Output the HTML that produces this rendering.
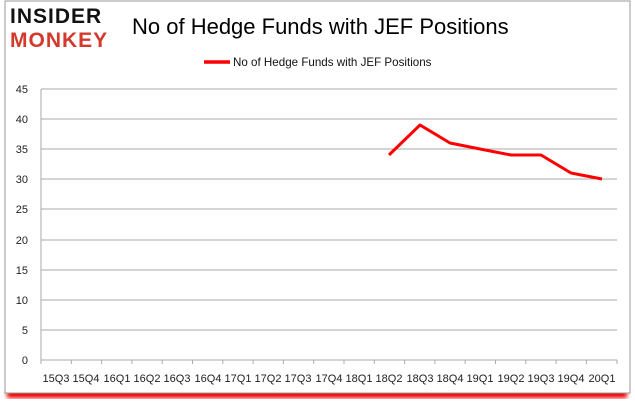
<!DOCTYPE html>
<html><head><style>
body{margin:0;background:#fff;width:635px;height:405px;overflow:hidden}
</style></head><body>
<svg width="635" height="405" xmlns="http://www.w3.org/2000/svg" font-family="Liberation Sans, sans-serif">
<defs><filter id="b"><feGaussianBlur stdDeviation="2"/></filter></defs>
<rect x="7" y="390" width="620" height="8" fill="#e00" filter="url(#b)"/>
<rect x="5" y="1" width="625" height="392" fill="#fff" stroke="#999"/>
<text x="10" y="23" font-size="21" font-weight="bold" fill="#111" letter-spacing="1">INSIDER</text>
<text x="10" y="47" font-size="21" font-weight="bold" fill="#d33a2c" letter-spacing="1">MONKEY</text>
<text x="132" y="34" font-size="22" fill="#000">No of Hedge Funds with JEF Positions</text>
<line x1="204" y1="62" x2="230" y2="62" stroke="#f00" stroke-width="3.5"/>
<text x="233" y="66" font-size="11.6" fill="#111">No of Hedge Funds with JEF Positions</text>
<g stroke="#aaa" stroke-width="1">
<line x1="41" y1="89" x2="617" y2="89"/><line x1="41" y1="119" x2="617" y2="119"/>
<line x1="41" y1="149" x2="617" y2="149"/><line x1="41" y1="179" x2="617" y2="179"/>
<line x1="41" y1="209" x2="617" y2="209"/><line x1="41" y1="240" x2="617" y2="240"/>
<line x1="41" y1="270" x2="617" y2="270"/><line x1="41" y1="300" x2="617" y2="300"/>
<line x1="41" y1="330" x2="617" y2="330"/><line x1="41" y1="360" x2="617" y2="360"/>
<line x1="41" y1="89" x2="41" y2="364"/>
</g>
<g font-size="11" fill="#222" text-anchor="end">
<text x="28" y="93">45</text><text x="28" y="123">40</text><text x="28" y="153">35</text><text x="28" y="183">30</text><text x="28" y="213">25</text><text x="28" y="244">20</text><text x="28" y="274">15</text><text x="28" y="304">10</text><text x="28" y="334">5</text><text x="28" y="364">0</text>
</g>
<g stroke="#aaa">
<path d="M71.3 360v4M101.6 360v4M131.9 360v4M162.2 360v4M192.5 360v4M222.8 360v4M253.1 360v4M283.4 360v4M313.7 360v4M344 360v4M374.3 360v4M404.6 360v4M434.9 360v4M465.2 360v4M495.5 360v4M525.8 360v4M556.1 360v4M586.4 360v4M617 360v4"/>
</g>
<g font-size="11" fill="#222" text-anchor="middle">
<text x="56" y="382">15Q3</text><text x="86" y="382">15Q4</text><text x="117" y="382">16Q1</text><text x="147" y="382">16Q2</text><text x="177" y="382">16Q3</text><text x="208" y="382">16Q4</text><text x="238" y="382">17Q1</text><text x="268" y="382">17Q2</text><text x="298" y="382">17Q3</text><text x="329" y="382">17Q4</text><text x="359" y="382">18Q1</text><text x="389" y="382">18Q2</text><text x="420" y="382">18Q3</text><text x="450" y="382">18Q4</text><text x="480" y="382">19Q1</text><text x="511" y="382">19Q2</text><text x="541" y="382">19Q3</text><text x="571" y="382">19Q4</text><text x="602" y="382">20Q1</text>
</g>
<polyline fill="none" stroke="#f00" stroke-width="3" stroke-linejoin="round" points="389,155 420,125 450,143 480,149 511,155 541,155 571,173 602,179"/>
</svg>
</body></html>
